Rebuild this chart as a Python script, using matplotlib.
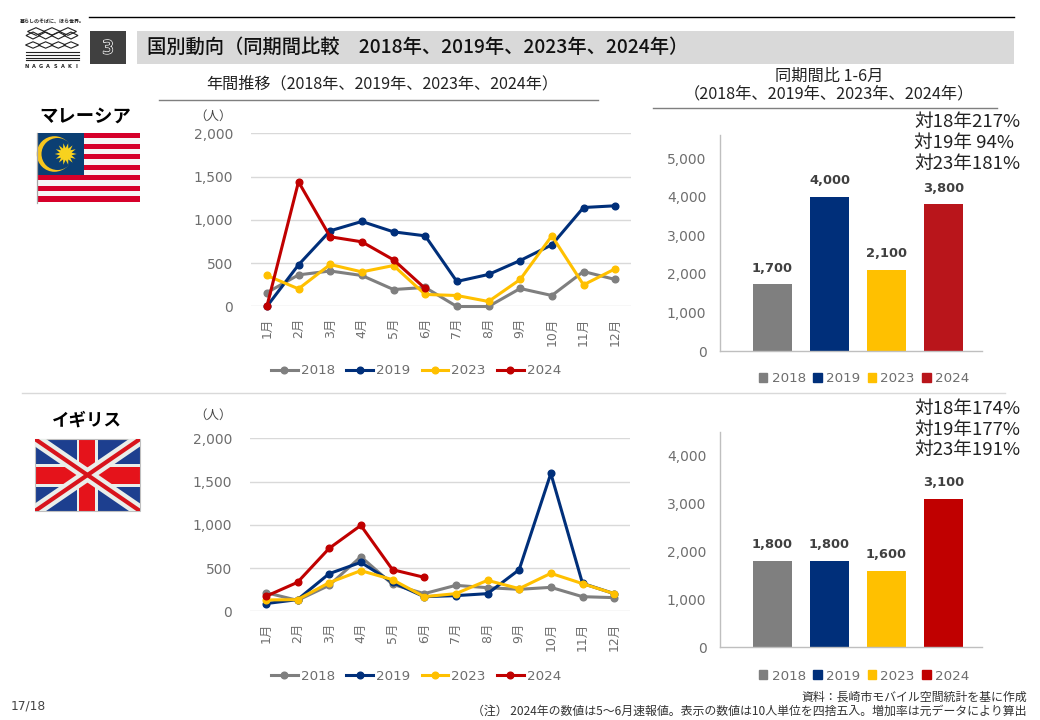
import matplotlib
matplotlib.use("Agg")
import matplotlib.pyplot as plt
import matplotlib.patheffects as pe
import numpy as np
from matplotlib.patches import Rectangle, Circle, Polygon
from matplotlib.lines import Line2D

plt.rcParams['font.family'] = ['DejaVu Sans', 'Noto Sans CJK JP']
JP = ['Noto Sans CJK JP', 'DejaVu Sans']

W, H = 1040, 720

# data
meses = ["1月", "2月", "3月", "4月", "5月", "6月", "7月", "8月", "9月", "10月", "11月", "12月"]
anios = ["2018", "2019", "2023", "2024"]

malasia_2018 = [160, 365, 410, 358, 196, 220, 0, 0, 208, 127, 404, 312]
malasia_2019 = [0, 481, 874, 982, 862, 816, 289, 370, 531, 712, 1143, 1163]
malasia_2023 = [358, 204, 485, 400, 473, 139, 127, 58, 312, 816, 250, 435]
malasia_2024 = [0, 1440, 805, 747, 539, 208]

uk_2018 = [216, 127, 300, 631, 312, 204, 300, 273, 254, 277, 169, 158]
uk_2019 = [89, 135, 435, 566, 335, 169, 181, 204, 481, 1594, 323, 204]
uk_2023 = [131, 135, 331, 470, 366, 169, 204, 358, 262, 439, 320, 204]
uk_2024 = [173, 335, 728, 993, 481, 393]

malasia_barras = [1730, 4000, 2100, 3800]
malasia_etiquetas = ["1,700", "4,000", "2,100", "3,800"]
uk_barras = [1800, 1800, 1590, 3090]
uk_etiquetas = ["1,800", "1,800", "1,600", "3,100"]

malasia_notas = ["対18年217%", "対19年 94%", "対23年181%"]
uk_notas = ["対18年174%", "対19年177%", "対23年191%"]

GRIS, AZUL, AMARILLO, ROJO = "#7F7F7F", "#002F7A", "#FFC000", "#C00000"
TXT = "#6E6E6E"


def ejes_px(fig, x0, y0, x1, y1):
    ax = fig.add_axes([x0 / W, 1 - y1 / H, (x1 - x0) / W, (y1 - y0) / H])
    ax.patch.set_alpha(0)
    return ax


def grafico_lineas(fig, caja, series, ley_y):
    ax = ejes_px(fig, *caja)
    x = np.arange(12)
    for vals, color, nombre in zip(series, [GRIS, AZUL, AMARILLO, ROJO], anios):
        ax.plot(x[:len(vals)], vals, color=color, lw=2.2, marker="o", ms=4.8,
                label=nombre, solid_joinstyle="round", clip_on=False)
    ax.set_xlim(-0.5, 11.5)
    ax.set_ylim(0, 2000)
    ax.set_yticks([0, 500, 1000, 1500, 2000])
    ax.set_yticklabels(["0", "500", "1,000", "1,500", "2,000"], color=TXT, fontsize=10)
    ax.set_xticks(x)
    ax.set_xticklabels(meses, rotation=90, color=TXT, fontsize=9)
    ax.grid(axis="y", color="#D9D9D9", lw=1)
    ax.set_axisbelow(True)
    ax.tick_params(length=0, axis="both", pad=0)
    ax.tick_params(axis="y", pad=13)
    ax.tick_params(axis="x", pad=8)
    for s in ax.spines.values():
        s.set_visible(False)
    ax.legend(loc="center", bbox_to_anchor=(416 / W, 1 - ley_y / H), bbox_transform=fig.transFigure,
              ncol=4, frameon=False, fontsize=9.7, labelcolor=TXT, columnspacing=0.85,
              handlelength=2.0, handletextpad=0.2, borderpad=0)
    return ax


def grafico_barras(fig, caja, ymax, ticks, valores, etiquetas, colores, ley_y):
    ax = ejes_px(fig, *caja)
    x = np.arange(4)
    barras = ax.bar(x, valores, width=0.67, color=colores)
    for b, e in zip(barras, etiquetas):
        ax.annotate(e, (b.get_x() + b.get_width() / 2, b.get_height()), xytext=(0, 7),
                    textcoords="offset points", ha="center", va="bottom",
                    fontsize=9.4, fontweight="bold", color="#404040")
    ax.set_xlim(-0.916, 3.68)
    ax.set_ylim(0, ymax)
    ax.set_yticks(ticks)
    ax.set_yticklabels([f"{t:,}" for t in ticks], color=TXT, fontsize=10)
    ax.set_xticks([])
    ax.tick_params(length=0, axis="y", pad=10)
    for s in ["top", "right"]:
        ax.spines[s].set_visible(False)
    for s in ["left", "bottom"]:
        ax.spines[s].set_color("#BFBFBF")
        ax.spines[s].set_linewidth(1)
    h = [Rectangle((0, 0), 1, 1, color=c) for c in colores]
    ax.legend(h, anios, loc="center", bbox_to_anchor=(864 / W, 1 - ley_y / H), bbox_transform=fig.transFigure,
              ncol=4, frameon=False, fontsize=9.7, labelcolor=TXT, columnspacing=0.55,
              handlelength=0.65, handleheight=0.65, handletextpad=0.3, borderpad=0)
    return ax


def bandera_malasia(bg, x0, y0, x1, y1):
    alto = (y1 - y0) / 13
    for i in range(13):
        bg.add_patch(Rectangle((x0, y0 + i * alto), x1 - x0, alto,
                               color="#D6002A" if i % 2 == 0 else "#F6F6F6", lw=0))
    bg.add_patch(Rectangle((x0, y0), 47.3, 42, color="#0B3F73", lw=0))
    bg.add_patch(Circle((x0 + 17.5, y0 + 21), 17.8, color="#F7C51E", lw=0))
    bg.add_patch(Circle((x0 + 20.5, y0 + 21), 16, color="#0B3F73", lw=0))
    cx, cy = x0 + 28.7, y0 + 21
    ang = np.linspace(0, 2 * np.pi, 28, endpoint=False)
    rad = np.where(np.arange(28) % 2 == 0, 11, 6)
    bg.add_patch(Polygon(np.c_[cx + rad * np.cos(ang), cy + rad * np.sin(ang)], color="#F7D21E", lw=0))
    bg.add_line(Line2D([x0 - 0.5, x0 - 0.5], [y0, y1 + 1], color="#A6A6A6", lw=0.9))


def bandera_uk(bg, x0, y0, x1, y1):
    marco = Rectangle((x0, y0), x1 - x0, y1 - y0, transform=bg.transData)
    bg.add_patch(Rectangle((x0, y0), x1 - x0, y1 - y0, color="#1D3F8F", lw=0))
    for color, ancho in [("#E9EEEA", 9), ("#D8141C", 3)]:
        for a, b in [((x0, y0), (x1, y1)), ((x0, y1), (x1, y0))]:
            l = Line2D([a[0], b[0]], [a[1], b[1]], color=color, lw=ancho)
            bg.add_line(l)
            l.set_clip_path(marco)
    cx, cy = (x0 + x1) / 2 - 0.5, (y0 + y1) / 2
    bg.add_patch(Rectangle((x0, cy - 11.5), x1 - x0, 23, color="#E9EEEA", lw=0))
    bg.add_patch(Rectangle((cx - 10.5, y0), 21, y1 - y0, color="#E9EEEA", lw=0))
    bg.add_patch(Rectangle((x0, cy - 8.5), x1 - x0, 17, color="#E5131B", lw=0))
    bg.add_patch(Rectangle((cx - 8, y0), 16, y1 - y0, color="#E5131B", lw=0))
    bg.add_patch(Rectangle((x0, y0), x1 - x0, y1 - y0, fill=False, ec="#BFBFBF", lw=0.8))


def logo(bg):
    bg.text(52, 21, "暮らしのそばに、ほら世界。", family=JP, fontsize=3.6, fontweight="bold",
            ha="center", va="center", color="#222222")
    filas = [(31.5, np.linspace(36, 68, 3), 8.5, 3.8),
             (35.5, np.linspace(33, 71, 4), 7, 3.5),
             (45, np.linspace(33, 71, 4), 7.5, 3.2)]
    for cy, cxs, rx, ry in filas:
        for cx in cxs:
            bg.add_patch(Polygon([(cx - rx, cy), (cx, cy - ry), (cx + rx, cy), (cx, cy + ry)],
                                 fill=False, ec="#222222", lw=0.8))
    for yy in [51.5, 54.5, 57.5, 60]:
        bg.add_line(Line2D([25.5, 78.5], [yy, yy], color="#222222", lw=0.8))
    for i, c in enumerate("NAGASAKI"):
        bg.text(26.5 + i * 7.2, 66, c, fontsize=3.6, fontweight="bold", ha="center", va="center", color="#222222")


fig = plt.figure(figsize=(W / 100, H / 100), dpi=100, facecolor="white")

bg = fig.add_axes([0, 0, 1, 1], zorder=0)
bg.set_xlim(0, W)
bg.set_ylim(H, 0)
bg.axis("off")

# cabecera
logo(bg)
bg.add_line(Line2D([89, 1014], [17, 17], color="black", lw=1))
bg.add_patch(Rectangle((90, 31), 36, 33, color="#404040", lw=0))
bg.text(108, 48.5, "3", color="#404040", fontsize=13, ha="center", va="center",
        path_effects=[pe.withStroke(linewidth=1.2, foreground="white"), pe.Normal()])
bg.add_patch(Rectangle((137, 31), 877, 33, color="#D9D9D9", lw=0))
bg.text(147, 47.5, "国別動向（同期間比較　2018年、2019年、2023年、2024年）", family=JP, fontsize=13.9,
        fontweight="medium", va="center", color="#111111")

# subtitulos
bg.text(382, 84, "年間推移（2018年、2019年、2023年、2024年）", family=JP, fontsize=11.6, ha="center", va="center", color="#222222")
bg.add_line(Line2D([159, 598], [99.5, 99.5], color="#7F7F7F", lw=1))
bg.text(829, 76, "同期間比 1-6月", family=JP, fontsize=11.7, ha="center", va="center", color="#222222")
bg.text(829, 94, "（2018年、2019年、2023年、2024年）", family=JP, fontsize=11.7, ha="center", va="center", color="#222222")
bg.add_line(Line2D([653, 997], [107.5, 107.5], color="#7F7F7F", lw=1))
bg.add_line(Line2D([22, 1005], [392.5, 392.5], color="#D9D9D9", lw=1))

# paises
bg.text(85.5, 116, "マレーシア", family=JP, fontsize=13.2, fontweight="bold", ha="center", va="center", color="black")
bandera_malasia(bg, 37, 133, 140, 201.5)
bg.text(87, 421, "イギリス", family=JP, fontsize=12.6, fontweight="bold", ha="center", va="center", color="black")
bandera_uk(bg, 35, 439, 140, 511)

bg.text(232, 116, "（人）", family=JP, fontsize=9, ha="right", va="center", color="#444444")
bg.text(232, 415, "（人）", family=JP, fontsize=9, ha="right", va="center", color="#444444")

for i, (a, b) in enumerate(zip(malasia_notas, uk_notas)):
    bg.text(914, 122 + i * 21, a, family=JP, fontsize=13.4, va="center", color="#222222")
    bg.text(914, 409 + i * 20.5, b, family=JP, fontsize=13.4, va="center", color="#222222")

# pie
bg.text(1027, 697, "資料：長崎市モバイル空間統計を基に作成", family=JP, fontsize=8.6, ha="right", va="center", color="#333333")
bg.text(1027, 711, "（注） 2024年の数値は5～6月速報値。表示の数値は10人単位を四捨五入。増加率は元データにより算出",
        family=JP, fontsize=8.6, ha="right", va="center", color="#333333")
bg.text(11, 706, "17/18", fontsize=8.8, va="center", color="#444444")

# graficos
grafico_lineas(fig, (251, 133.3, 631, 306.5),
               [malasia_2018, malasia_2019, malasia_2023, malasia_2024], 371)
grafico_lineas(fig, (250, 438.3, 630, 611.3),
               [uk_2018, uk_2019, uk_2023, uk_2024], 676)

grafico_barras(fig, (720.3, 135, 982.3, 351), 5596, [0, 1000, 2000, 3000, 4000, 5000],
               malasia_barras, malasia_etiquetas, [GRIS, AZUL, AMARILLO, "#B9151B"], 379)
grafico_barras(fig, (720.3, 432.3, 982.3, 647.3), 4479, [0, 1000, 2000, 3000, 4000],
               uk_barras, uk_etiquetas, [GRIS, AZUL, AMARILLO, ROJO], 676)

fig.savefig("out.png", dpi=100)
